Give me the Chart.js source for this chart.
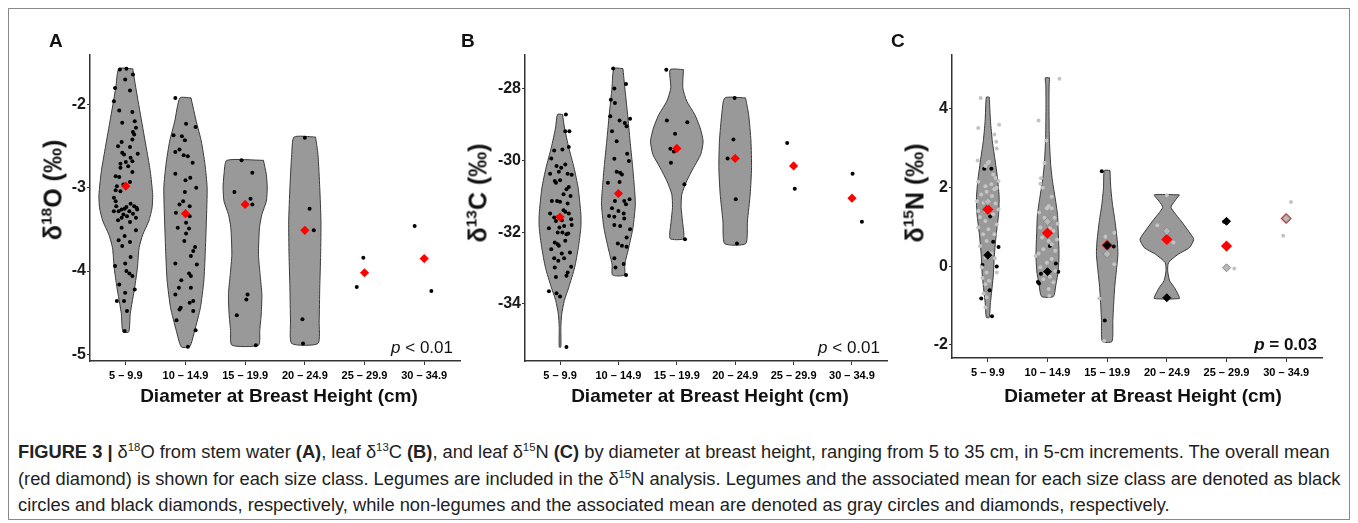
<!DOCTYPE html>
<html>
<head>
<meta charset="utf-8">
<script src="https://cdn.jsdelivr.net/npm/chart.js@4.4.1/dist/chart.umd.min.js"></script>
<style>
  body { margin: 0; background: #fff; width: 1358px; height: 523px; position: relative; overflow: hidden;
         font-family: "Liberation Sans", Arial, Helvetica, sans-serif; color: #111; }
  .frame { position: absolute; left: 8px; top: 8px; width: 1342px; height: 512px; border: 1.5px solid #8a8a8a; box-sizing: border-box; }
  canvas { position: absolute; }
  .lbl { position: absolute; font-weight: bold; font-size: 19px; line-height: 1; }
  .ytitle { position: absolute; font-weight: bold; font-size: 25px; line-height: 1; white-space: nowrap;
            transform: translate(-50%, -50%) rotate(-90deg); }
  .xtitle { position: absolute; font-weight: bold; font-size: 19px; line-height: 1; white-space: nowrap; transform: translateX(-50%); }
  .pval { position: absolute; font-size: 17px; line-height: 1; white-space: nowrap; transform: translateX(-100%); }
  .cap { position: absolute; left: 18px; font-size: 18.3px; line-height: 1; white-space: nowrap; color: #222; }
  sup { font-size: 0.62em; line-height: 0; vertical-align: 0.62em; }
</style>
</head>
<body>
<div class="frame"></div>

<canvas id="chartA" width="430" height="342" style="left:40px;top:44px"></canvas>
<canvas id="chartB" width="422" height="342" style="left:475px;top:44px"></canvas>
<canvas id="chartC" width="430" height="339" style="left:902px;top:44px"></canvas>

<div class="lbl" style="left:49px;top:31px">A</div>
<div class="lbl" style="left:461px;top:31px">B</div>
<div class="lbl" style="left:891px;top:31px">C</div>

<div class="ytitle" style="left:53px;top:190px">δ<sup>18</sup>O (‰)</div>
<div class="ytitle" style="left:478px;top:193px">δ<sup>13</sup>C (‰)</div>
<div class="ytitle" style="left:915px;top:193px">δ<sup>15</sup>N (‰)</div>

<div class="xtitle" style="left:279px;top:386px">Diameter at Breast Height (cm)</div>
<div class="xtitle" style="left:710px;top:386px">Diameter at Breast Height (cm)</div>
<div class="xtitle" style="left:1143px;top:386px">Diameter at Breast Height (cm)</div>

<div class="pval" style="left:453px;top:339px"><i>p</i> &lt; 0.01</div>
<div class="pval" style="left:880px;top:339px"><i>p</i> &lt; 0.01</div>
<div class="pval" style="left:1317px;top:336px;font-weight:bold"><i>p</i> = 0.03</div>

<div class="cap" style="top:443px"><b>FIGURE 3 |</b> δ<sup>18</sup>O from stem water <b>(A)</b>, leaf δ<sup>13</sup>C <b>(B)</b>, and leaf δ<sup>15</sup>N <b>(C)</b> by diameter at breast height, ranging from 5 to 35 cm, in 5-cm increments. The overall mean</div>
<div class="cap" style="top:470px">(red diamond) is shown for each size class. Legumes are included in the δ<sup>15</sup>N analysis. Legumes and the associated mean for each size class are denoted as black</div>
<div class="cap" style="top:496px">circles and black diamonds, respectively, while non-legumes and the associated mean are denoted as gray circles and diamonds, respectively.</div>

<script>
// kategorije promjera (cm)
const cats = ['5 – 9.9', '10 – 14.9', '15 – 19.9', '20 – 24.9', '25 – 29.9', '30 – 34.9'];

// --- A: δ18O stem water ---
const o18Ticks = [-2, -3, -4, -5];
const o18Range = [-5.08, -1.40];
// točke: [vrijednost, jitter]
const o18g1 = [[-1.57,0.01],[-1.58,-0.10],[-1.64,0.12],[-1.70,-0.01],[-1.80,-0.18],[-1.83,0.07],[-1.96,-0.20],[-2.07,-0.11],[-2.09,0.11],[-2.22,-0.06],[-2.20,0.15],[-2.28,0.17],[-2.33,0.12],[-2.36,0.14],[-2.42,0.11],[-2.45,-0.07],[-2.50,-0.13],[-2.51,0.07],[-2.58,-0.06],[-2.60,-0.03],[-2.59,0.20],[-2.64,0.08],[-2.68,0.11],[-2.69,0.00],[-2.71,-0.09],[-2.76,-0.09],[-2.74,0.04],[-2.81,0.11],[-2.86,-0.17],[-2.87,-0.11],[-2.93,0.07],[-2.96,-0.04],[-2.98,-0.15],[-3.03,-0.17],[-3.04,-0.09],[-3.12,-0.20],[-3.16,-0.17],[-3.22,-0.16],[-3.19,0.08],[-3.22,0.14],[-3.24,0.18],[-3.28,-0.20],[-3.25,-0.02],[-3.23,0.01],[-3.26,-0.07],[-3.28,-0.12],[-3.32,-0.04],[-3.28,0.06],[-3.31,0.12],[-3.26,0.19],[-3.36,-0.07],[-3.34,0.02],[-3.36,0.17],[-3.39,-0.13],[-3.41,0.07],[-3.48,-0.07],[-3.51,0.17],[-3.58,-0.02],[-3.63,-0.12],[-3.65,0.07],[-3.70,-0.06],[-3.83,0.08],[-3.94,-0.18],[-3.91,-0.01],[-4.00,0.01],[-4.03,0.06],[-4.06,0.11],[-4.16,-0.11],[-4.22,0.15],[-4.26,-0.01],[-4.36,-0.15],[-4.36,-0.03],[-4.48,0.02],[-4.72,-0.02]];
const o18g2 = [[-1.92,-0.17],[-2.23,0.01],[-2.27,0.17],[-2.37,-0.20],[-2.38,-0.06],[-2.43,-0.01],[-2.54,-0.10],[-2.57,-0.17],[-2.61,-0.03],[-2.62,0.04],[-2.70,0.12],[-2.83,-0.17],[-2.88,0.08],[-2.91,0.00],[-3.00,0.18],[-3.05,-0.01],[-3.16,-0.04],[-3.22,0.07],[-3.20,-0.10],[-3.30,-0.16],[-3.34,0.07],[-3.42,0.01],[-3.49,0.06],[-3.48,-0.13],[-3.55,0.01],[-3.64,-0.02],[-3.71,0.16],[-3.76,0.13],[-3.82,0.09],[-3.92,0.19],[-3.91,-0.17],[-4.03,0.06],[-4.06,0.09],[-4.11,-0.07],[-4.20,-0.11],[-4.20,0.09],[-4.28,-0.17],[-4.36,0.13],[-4.38,0.07],[-4.44,-0.08],[-4.46,-0.10],[-4.48,0.13],[-4.59,-0.15],[-4.71,0.17],[-4.91,0.04]];
const o18g3 = [[-2.67,-0.06],[-2.82,0.12],[-3.05,-0.18],[-3.13,0.09],[-3.20,0.12],[-4.28,0.04],[-4.34,0.02],[-4.53,-0.14],[-4.89,0.18]];
const o18g4 = [[-2.40,0.00],[-3.25,0.08],[-3.51,0.15],[-4.58,-0.04],[-4.87,-0.03]];
const o18g5 = [[-3.84,-0.02],[-4.19,-0.13]];
const o18g6 = [[-3.46,-0.16],[-4.24,0.12]];
const o18Means = [-2.98, -3.31, -3.20, -3.51, -4.02, -3.85];
// obris violine: [vrijednost, polu-širina]
const o18v1 = [[-1.57,0.117],[-1.80,0.168],[-2.20,0.265],[-2.60,0.363],[-2.80,0.41],[-3.08,0.45],[-3.24,0.44],[-3.40,0.385],[-3.56,0.285],[-3.72,0.223],[-3.96,0.195],[-4.20,0.148],[-4.51,0.075],[-4.73,0.05]];
const o18v2 = [[-1.92,0.092],[-2.20,0.18],[-2.44,0.265],[-2.72,0.327],[-3.00,0.363],[-3.40,0.35],[-3.80,0.33],[-4.12,0.307],[-4.44,0.25],[-4.71,0.156],[-4.91,0.07]];
const o18v3 = [[-2.67,0.307],[-2.84,0.355],[-3.00,0.37],[-3.16,0.355],[-3.32,0.28],[-3.48,0.24],[-3.80,0.223],[-4.04,0.25],[-4.28,0.28],[-4.51,0.27],[-4.71,0.245],[-4.89,0.223]];
const o18v4 = [[-2.39,0.18],[-2.60,0.22],[-3.00,0.25],[-3.40,0.27],[-3.80,0.265],[-4.20,0.25],[-4.60,0.24],[-4.87,0.22]];

// --- B: leaf δ13C ---
const c13Ticks = [-28, -30, -32, -34];
const c13Range = [-35.6, -27.04];
const c13g1 = [[-28.71,0.10],[-29.18,0.09],[-29.18,0.16],[-29.62,0.15],[-29.72,-0.10],[-29.69,0.04],[-29.94,-0.15],[-30.15,-0.06],[-30.11,0.09],[-30.20,0.02],[-30.37,-0.17],[-30.31,-0.02],[-30.37,0.13],[-30.40,0.20],[-30.57,-0.09],[-30.55,0.00],[-30.74,0.15],[-30.80,0.11],[-30.62,-0.07],[-30.94,0.06],[-30.99,0.18],[-31.13,-0.14],[-31.13,-0.05],[-31.15,0.00],[-31.20,0.13],[-31.39,0.06],[-31.43,0.09],[-31.48,0.15],[-31.48,-0.17],[-31.59,-0.10],[-31.57,-0.03],[-31.67,0.03],[-31.64,0.19],[-31.87,-0.01],[-31.83,0.07],[-31.69,-0.07],[-31.80,0.20],[-31.89,-0.19],[-32.01,-0.04],[-32.06,0.11],[-32.01,0.04],[-32.04,0.14],[-32.29,-0.09],[-32.34,-0.04],[-32.38,-0.02],[-32.24,0.09],[-32.48,-0.15],[-32.60,0.03],[-32.57,0.17],[-32.73,-0.10],[-32.80,-0.03],[-32.73,0.07],[-32.97,0.19],[-32.99,-0.09],[-33.13,0.13],[-33.22,0.11],[-33.25,-0.07],[-33.65,-0.19],[-33.71,-0.06],[-33.80,0.00],[-35.21,0.11]];
const c13g2 = [[-27.43,-0.09],[-27.86,0.13],[-27.99,-0.07],[-28.30,-0.13],[-28.39,-0.06],[-28.76,-0.14],[-28.83,0.20],[-28.88,0.02],[-28.95,0.11],[-29.04,0.14],[-29.18,-0.11],[-29.46,-0.03],[-29.81,0.15],[-29.95,-0.07],[-30.01,0.18],[-30.31,-0.03],[-30.34,0.03],[-30.39,0.06],[-30.62,-0.18],[-30.60,0.02],[-31.08,0.19],[-31.13,-0.06],[-31.13,0.10],[-31.22,0.13],[-31.33,-0.11],[-31.41,0.00],[-31.48,0.09],[-31.55,-0.16],[-31.57,-0.07],[-31.62,0.10],[-31.80,-0.07],[-31.83,0.03],[-31.92,0.20],[-32.15,0.14],[-32.32,-0.01],[-32.38,0.06],[-32.41,0.14],[-32.73,-0.07],[-32.89,0.09],[-32.99,-0.05],[-33.20,0.13]];
const c13g3 = [[-27.46,-0.18],[-28.88,-0.17],[-28.93,0.18],[-29.25,-0.03],[-29.67,-0.11],[-29.75,-0.05],[-30.06,-0.10],[-30.66,0.13],[-32.20,0.14]];
const c13g4 = [[-28.25,-0.01],[-29.41,-0.03],[-29.94,-0.13],[-31.08,0.01],[-32.32,0.03]];
const c13g5 = [[-29.51,-0.11],[-30.79,0.02]];
const c13g6 = [[-30.37,0.01],[-31.71,0.17]];
const c13Means = [-31.58, -30.92, -29.66, -29.94, -30.15, -31.05];
const c13v1 = [[-28.71,0.043],[-29.09,0.077],[-29.64,0.15],[-30.20,0.24],[-30.76,0.31],[-31.50,0.357],[-31.87,0.357],[-32.43,0.314],[-32.99,0.25],[-33.54,0.15],[-33.91,0.074],[-34.29,0.029],[-34.66,0.014],[-35.21,0.014]];
const c13v2 = [[-27.43,0.077],[-27.97,0.11],[-28.71,0.157],[-29.46,0.20],[-30.11,0.24],[-30.76,0.274],[-31.22,0.29],[-31.87,0.25],[-32.43,0.177],[-32.89,0.11],[-33.20,0.10]];
const c13v3 = [[-27.46,0.114],[-27.97,0.103],[-28.34,0.17],[-28.71,0.306],[-29.09,0.40],[-29.46,0.45],[-29.83,0.41],[-30.20,0.286],[-30.57,0.17],[-30.94,0.086],[-31.31,0.074],[-31.69,0.097],[-32.18,0.114]];
const c13v4 = [[-28.25,0.177],[-28.71,0.23],[-29.46,0.27],[-30.20,0.28],[-30.94,0.257],[-31.69,0.21],[-32.32,0.18]];

// --- C: leaf δ15N (mahunarke crno, ostale sivo) ---
const n15Ticks = [4, 2, 0, -2];
const n15Range = [-2.33, 5.37];
const n15Leg = [
  [[2.47,-0.06],[2.47,0.06],[1.26,0.04],[0.62,0.09],[0.49,0.18],[0.03,-0.09],[-0.01,0.15],[-0.61,0.03],[-0.82,-0.11],[-1.27,0.07]],
  [[-0.40,-0.16],[-0.44,-0.14],[-0.19,-0.11],[0.51,0.04],[0.07,0.14],[-0.14,0.18]],
  [[2.41,-0.09],[0.50,0.11],[-1.38,-0.04]],
  [[-0.82,0.00]],
  [[1.13,-0.04]],
  []
];
const n15Other = [
  [[4.27,-0.12],[3.51,-0.16],[3.59,0.19],[3.34,0.11],[3.16,0.14],[2.99,0.15],[2.68,-0.17],[2.62,0.00],[2.65,0.02],[2.54,-0.04],[2.33,0.09],[2.24,0.13],[2.16,0.18],[2.14,-0.16],[2.08,0.06],[2.03,-0.04],[1.95,0.11],[1.99,0.15],[1.89,-0.02],[1.82,-0.11],[1.78,0.07],[1.65,-0.18],[1.61,-0.07],[1.59,0.13],[1.40,-0.04],[1.40,-0.16],[1.44,0.18],[1.32,0.09],[1.25,-0.13],[1.15,-0.04],[1.06,0.15],[0.98,-0.16],[0.94,0.01],[0.81,-0.08],[0.81,0.11],[0.64,-0.02],[0.51,-0.13],[0.32,0.06],[0.22,-0.04],[0.20,0.12],[-0.03,-0.10],[-0.16,-0.02],[-0.16,0.15],[-0.30,-0.09],[-0.37,0.02],[-0.46,-0.04],[-0.69,-0.07],[-0.79,-0.02],[-1.05,-0.04]],
  [[4.76,0.20],[3.70,-0.15],[3.19,-0.02],[2.62,-0.05],[2.23,-0.11],[2.09,-0.12],[1.99,-0.08],[1.76,0.07],[1.53,0.02],[1.47,-0.01],[1.47,0.07],[1.36,-0.14],[1.23,-0.05],[1.23,0.12],[1.08,0.17],[0.98,-0.12],[0.96,0.04],[0.89,0.10],[0.81,-0.03],[0.73,-0.09],[0.68,0.16],[0.64,0.02],[0.56,0.07],[0.43,-0.07],[0.39,0.13],[0.32,-0.15],[0.26,-0.20],[0.18,0.07],[0.09,-0.01],[-0.03,-0.12],[-0.12,0.13],[-0.20,-0.04],[-0.27,0.04],[-0.33,-0.07],[-0.41,0.10],[-0.58,0.02],[-0.75,0.03]],
  [[0.75,-0.03],[0.85,0.12],[0.05,0.12],[-0.82,-0.13],[-1.89,-0.05]],
  [[1.80,0.00],[1.04,-0.16],[0.60,0.11]],
  [[-0.06,0.13]],
  [[1.63,0.08],[0.77,-0.05]]
];
const n15Means = [1.44, 0.84, 0.53, 0.68, 0.51, 1.21];
const n15LegMeans = [0.28, -0.14, 0.53, -0.80, 1.14, null];
const n15OtherMeans = [1.64, 1.13, 0.31, 0.89, -0.04, 1.21];
const n15v1 = [[4.29,0.024],[3.68,0.045],[3.17,0.076],[2.67,0.124],[2.16,0.168],[1.74,0.19],[1.32,0.181],[0.81,0.141],[0.30,0.111],[-0.20,0.094],[-0.54,0.072],[-0.96,0.042],[-1.30,0.024]];
const n15v2 = [[4.78,0.036],[4.60,0.028],[4.10,0.025],[3.26,0.031],[2.58,0.053],[2.16,0.084],[1.74,0.128],[1.32,0.168],[0.89,0.18],[0.30,0.193],[-0.12,0.18],[-0.46,0.142],[-0.77,0.098]];
const n15v3 = [[2.43,0.047],[1.99,0.061],[1.57,0.089],[1.15,0.131],[0.64,0.17],[0.30,0.18],[-0.12,0.154],[-0.54,0.126],[-0.96,0.109],[-1.38,0.095],[-1.91,0.081]];
const n15v4 = [[1.81,0.21],[1.65,0.13],[1.49,0.07],[1.15,0.237],[0.89,0.363],[0.68,0.45],[0.47,0.377],[0.30,0.187],[0.09,0.028],[-0.12,0.014],[-0.37,0.047],[-0.54,0.126],[-0.71,0.187],[-0.82,0.21]];

const FONT = '"Liberation Sans", Arial, sans-serif';

// obris violine kao zatvoreni poligon
function violinPoints(pos, prof) {
  const right = prof.map(p => ({ x: pos + p[1], y: p[0] }));
  const left = prof.map(p => ({ x: pos - p[1], y: p[0] })).reverse();
  return right.concat(left, [right[0]]);
}

function jittered(groups) {
  const out = [];
  groups.forEach((g, i) => g.forEach(p => out.push({ x: i + 1 + p[1], y: p[0] })));
  return out;
}

function meanPoints(vals) {
  const out = [];
  vals.forEach((v, i) => { if (v !== null) out.push({ x: i + 1, y: v }); });
  return out;
}

function crtajPanel(id, violins, yTicks, yRange, extra) {
  const datasets = [];
  violins.forEach((prof, i) => {
    if (!prof) return;
    datasets.push({
      type: 'line', data: violinPoints(i + 1, prof), fill: 'shape',
      backgroundColor: '#999999', borderColor: '#3a3a3a', borderWidth: 1,
      pointRadius: 0, tension: 0.2, order: 10
    });
  });
  extra.forEach(d => datasets.push(d));

  new Chart(document.getElementById(id), {
    type: 'scatter',
    data: { datasets },
    options: {
      responsive: false,
      animation: false,
      events: [],
      layout: { padding: { left: 10, right: 10, top: 10, bottom: 0 } },
      plugins: { legend: { display: false }, tooltip: { enabled: false } },
      scales: {
        x: {
          type: 'linear', min: 0.4, max: 6.6,
          afterBuildTicks: s => { s.ticks = cats.map((c, i) => ({ value: i + 1 })); },
          afterFit: s => { s.height = 25; },
          ticks: {
            callback: v => cats[Math.round(v) - 1],
            autoSkip: false, maxRotation: 0, padding: 4,
            color: '#000', font: { family: FONT, size: 11, weight: 'bold' }
          },
          grid: { drawOnChartArea: false, drawTicks: true, tickLength: 4, color: '#333' },
          border: { display: true, color: '#333', width: 1.5 }
        },
        y: {
          type: 'linear', min: yRange[0], max: yRange[1],
          afterBuildTicks: s => { s.ticks = yTicks.map(v => ({ value: v })); },
          afterFit: s => { s.width = 40; },
          ticks: {
            callback: v => String(v), padding: 1,
            color: '#1a1a1a', font: { family: FONT, size: 16, weight: 'bold' }
          },
          grid: { drawOnChartArea: false, drawTicks: true, tickLength: 3, color: '#333' },
          border: { display: true, color: '#333', width: 1.5 }
        }
      }
    }
  });
}

const dots = (data, color) => ({
  data, pointRadius: 2, pointBackgroundColor: color, pointBorderWidth: 0, order: 5
});
const redMean = (vals, r) => ({
  data: meanPoints(vals), pointStyle: 'rectRot', pointRadius: r,
  pointBackgroundColor: '#ff0000', pointBorderColor: '#ff0000', pointBorderWidth: 0, order: 2
});
const groupMean = (vals, fill, edge) => ({
  data: meanPoints(vals), pointStyle: 'rectRot', pointRadius: 4,
  pointBackgroundColor: fill, pointBorderColor: edge, pointBorderWidth: 1, order: 1
});

crtajPanel('chartA', [o18v1, o18v2, o18v3, o18v4, null, null], o18Ticks, o18Range, [
  dots(jittered([o18g1, o18g2, o18g3, o18g4, o18g5, o18g6]), '#000'),
  redMean(o18Means, 4.6)
]);

crtajPanel('chartB', [c13v1, c13v2, c13v3, c13v4, null, null], c13Ticks, c13Range, [
  dots(jittered([c13g1, c13g2, c13g3, c13g4, c13g5, c13g6]), '#000'),
  redMean(c13Means, 4.6)
]);

crtajPanel('chartC', [n15v1, n15v2, n15v3, n15v4, null, null], n15Ticks, n15Range, [
  dots(jittered(n15Other), '#c4c4c4'),
  dots(jittered(n15Leg), '#000'),
  redMean(n15Means, 5.6),
  groupMean(n15OtherMeans, '#b8b8b8', '#8a8a8a'),
  groupMean(n15LegMeans, '#000', '#000')
]);
</script>
</body>
</html>
